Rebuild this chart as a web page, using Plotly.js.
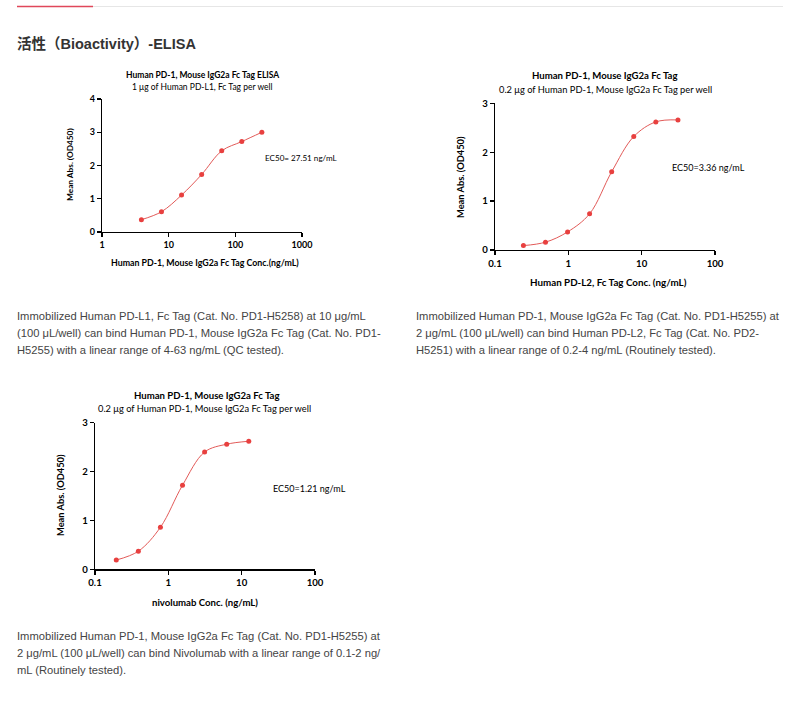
<!DOCTYPE html>
<html>
<head>
<meta charset="utf-8">
<script src="https://cdn.plot.ly/plotly-3.0.1.min.js"></script>
<style>
html,body{margin:0;padding:0;background:#fff;}
#chart{width:800px;height:701px;}
</style>
</head>
<body>
<div id="chart"></div>
<script>
// ---------- data ----------
const heading = "活性（Bioactivity）-ELISA";

const c1Title = "Human PD-1, Mouse IgG2a Fc Tag ELISA";
const c1Sub = "1 μg of Human PD-L1, Fc Tag per well";
const c1XTitle = "Human PD-1, Mouse IgG2a Fc Tag Conc.(ng/mL)";
const c1EC50 = "EC50= 27.51 ng/mL";
const c1Conc = [3.9, 7.8, 15.6, 31.25, 62.5, 125, 250];
const c1OD = [0.37, 0.61, 1.11, 1.73, 2.44, 2.72, 3.00];
const c1XTicks = [1, 10, 100, 1000];
const c1XTickText = ["1", "10", "100", "1000"];
const c1YTicks = [0, 1, 2, 3, 4];

const c2Title = "Human PD-1, Mouse IgG2a Fc Tag";
const c2Sub = "0.2 μg of Human PD-1, Mouse IgG2a Fc Tag per well";
const c2XTitle = "Human PD-L2, Fc Tag Conc. (ng/mL)";
const c2EC50 = "EC50=3.36 ng/mL";
const c2Conc = [0.244, 0.488, 0.977, 1.95, 3.9, 7.8, 15.6, 31.25];
const c2OD = [0.09, 0.16, 0.37, 0.74, 1.60, 2.32, 2.62, 2.66];
const c2XTicks = [0.1, 1, 10, 100];
const c2XTickText = ["0.1", "1", "10", "100"];
const c2YTicks = [0, 1, 2, 3];

const c3Title = "Human PD-1, Mouse IgG2a Fc Tag";
const c3Sub = "0.2 μg of Human PD-1, Mouse IgG2a Fc Tag per well";
const c3XTitle = "nivolumab Conc. (ng/mL)";
const c3EC50 = "EC50=1.21 ng/mL";
const c3Conc = [0.195, 0.39, 0.78, 1.56, 3.125, 6.25, 12.5];
const c3OD = [0.19, 0.37, 0.86, 1.72, 2.40, 2.56, 2.62];
const c3XTicks = [0.1, 1, 10, 100];
const c3XTickText = ["0.1", "1", "10", "100"];
const c3YTicks = [0, 1, 2, 3];

const yTitle = "Mean Abs. (OD450)";

const p1Lines = [
  "Immobilized Human PD-L1, Fc Tag (Cat. No. PD1-H5258) at 10 μg/mL",
  "(100 μL/well) can bind Human PD-1, Mouse IgG2a Fc Tag (Cat. No. PD1-",
  "H5255) with a linear range of 4-63 ng/mL (QC tested)."
];
const p2Lines = [
  "Immobilized Human PD-1, Mouse IgG2a Fc Tag (Cat. No. PD1-H5255) at",
  "2 μg/mL (100 μL/well) can bind Human PD-L2, Fc Tag (Cat. No. PD2-",
  "H5251) with a linear range of 0.2-4 ng/mL (Routinely tested)."
];
const p3Lines = [
  "Immobilized Human PD-1, Mouse IgG2a Fc Tag (Cat. No. PD1-H5255) at",
  "2 μg/mL (100 μL/well) can bind Nivolumab with a linear range of 0.1-2 ng/",
  "mL (Routinely tested)."
];

// ---------- helpers ----------
const W = 800, H = 701;
const X = px => px / W;
const Y = py => 1 - py / H;

const chartFont = "Lato, 'Open Sans', sans-serif";
const pageFont = "'Liberation Sans', Arial, 'Noto Sans CJK SC', sans-serif";
const red = "#e8403f";
const lineRed = "#e25a58";

function trace(x, y, xa, ya) {
  return {
    x: x, y: y, xaxis: xa, yaxis: ya,
    type: "scatter", mode: "lines+markers",
    line: {color: lineRed, width: 1, shape: "spline", smoothing: 1},
    marker: {color: red, size: 5},
    hoverinfo: "x+y", showlegend: false
  };
}

function xAxis(domain, range, tv, tt, anchor, fs) {
  return {
    domain: domain, type: "log", range: range, anchor: anchor,
    tickvals: tv, ticktext: tt,
    showline: true, linecolor: "#000", linewidth: 1.3,
    ticks: "outside", ticklen: 4, tickwidth: 1.3, tickcolor: "#000",
    showgrid: false, zeroline: false,
    tickfont: {family: chartFont, size: fs, color: "#000", weight: "bold"}
  };
}
function yAxis(domain, range, tv, anchor, fs) {
  return {
    domain: domain, range: range, anchor: anchor,
    tickvals: tv,
    showline: true, linecolor: "#000", linewidth: 1.3,
    ticks: "outside", ticklen: 4, tickwidth: 1.3, tickcolor: "#000",
    showgrid: false, zeroline: false,
    tickfont: {family: chartFont, size: fs, color: "#000", weight: "bold"}
  };
}

const ann = [];
function txt(text, px, py, size, opts, family) {
  ann.push(Object.assign({
    text: text, x: X(px), y: Y(py), xref: "paper", yref: "paper",
    showarrow: false, xanchor: "center", yanchor: "middle",
    font: {family: family || chartFont, size: size, color: "#000"}
  }, opts || {}));
}

// heading
txt("<b>" + heading + "</b>", 15, 44, 14.5, {xanchor: "left", font: {family: pageFont, size: 14.5, color: "#333"}});

// chart 1 texts
txt("<b>" + c1Title + "</b>", 203, 75, 8.5);
txt(c1Sub, 203, 87, 8.5);
txt(c1EC50, 263, 158, 8.1, {xanchor: "left"});
txt("<b>" + c1XTitle + "</b>", 205, 262, 8.8);
txt("<b>" + yTitle + "</b>", 70, 165, 8.3, {textangle: -90});

// chart 2 texts
txt("<b>" + c2Title + "</b>", 605, 76, 9.6);
txt(c2Sub, 605, 89, 9.3);
txt(c2EC50, 670, 167, 9, {xanchor: "left"});
txt("<b>" + c2XTitle + "</b>", 608, 282, 9.8);
txt("<b>" + yTitle + "</b>", 460, 177, 9.3, {textangle: -90});

// chart 3 texts
txt("<b>" + c3Title + "</b>", 207, 395, 9.6);
txt(c3Sub, 205, 409, 9.3);
txt(c3EC50, 271, 488, 9, {xanchor: "left"});
txt("<b>" + c3XTitle + "</b>", 205, 602, 9.6);
txt("<b>" + yTitle + "</b>", 60, 495, 9.3, {textangle: -90});

// paragraphs
const pFont = {family: pageFont, size: 11.2, color: "#444"};
p1Lines.forEach((l, i) => txt(l, 15, 316 + i * 17, 11.2, {xanchor: "left", font: pFont}));
p2Lines.forEach((l, i) => txt(l, 414, 316 + i * 17, 11.2, {xanchor: "left", font: pFont}));
p3Lines.forEach((l, i) => txt(l, 15, 636 + i * 17, 11.2, {xanchor: "left", font: pFont}));

const shapes = [
  {type: "line", xref: "paper", yref: "paper", x0: X(17), x1: X(783), y0: Y(6.5), y1: Y(6.5), line: {color: "#e6e6e6", width: 1}},
  {type: "line", xref: "paper", yref: "paper", x0: X(17), x1: X(93), y0: Y(6.5), y1: Y(6.5), line: {color: "#e0475a", width: 1.5}}
];

const data = [
  trace(c1Conc, c1OD, "x", "y"),
  trace(c2Conc, c2OD, "x2", "y2"),
  trace(c3Conc, c3OD, "x3", "y3")
];

const layout = {
  width: W, height: H,
  margin: {l: 0, r: 0, t: 0, b: 0},
  paper_bgcolor: "#fff", plot_bgcolor: "rgba(0,0,0,0)",
  showlegend: false,
  xaxis: xAxis([X(102), X(302)], [0, 3], c1XTicks, c1XTickText, "y", 9),
  yaxis: yAxis([Y(232), Y(99)], [0, 4], c1YTicks, "x", 9),
  xaxis2: xAxis([X(495), X(715)], [-1, 2], c2XTicks, c2XTickText, "y2", 9.6),
  yaxis2: yAxis([Y(250), Y(103.3)], [0, 3], c2YTicks, "x2", 9.6),
  xaxis3: xAxis([X(95), X(315)], [-1, 2], c3XTicks, c3XTickText, "y3", 9.6),
  yaxis3: yAxis([Y(569.3), Y(422.7)], [0, 3], c3YTicks, "x3", 9.6),
  annotations: ann,
  shapes: shapes
};

Plotly.newPlot("chart", data, layout, {displayModeBar: false, staticPlot: true});
</script>
</body>
</html>
